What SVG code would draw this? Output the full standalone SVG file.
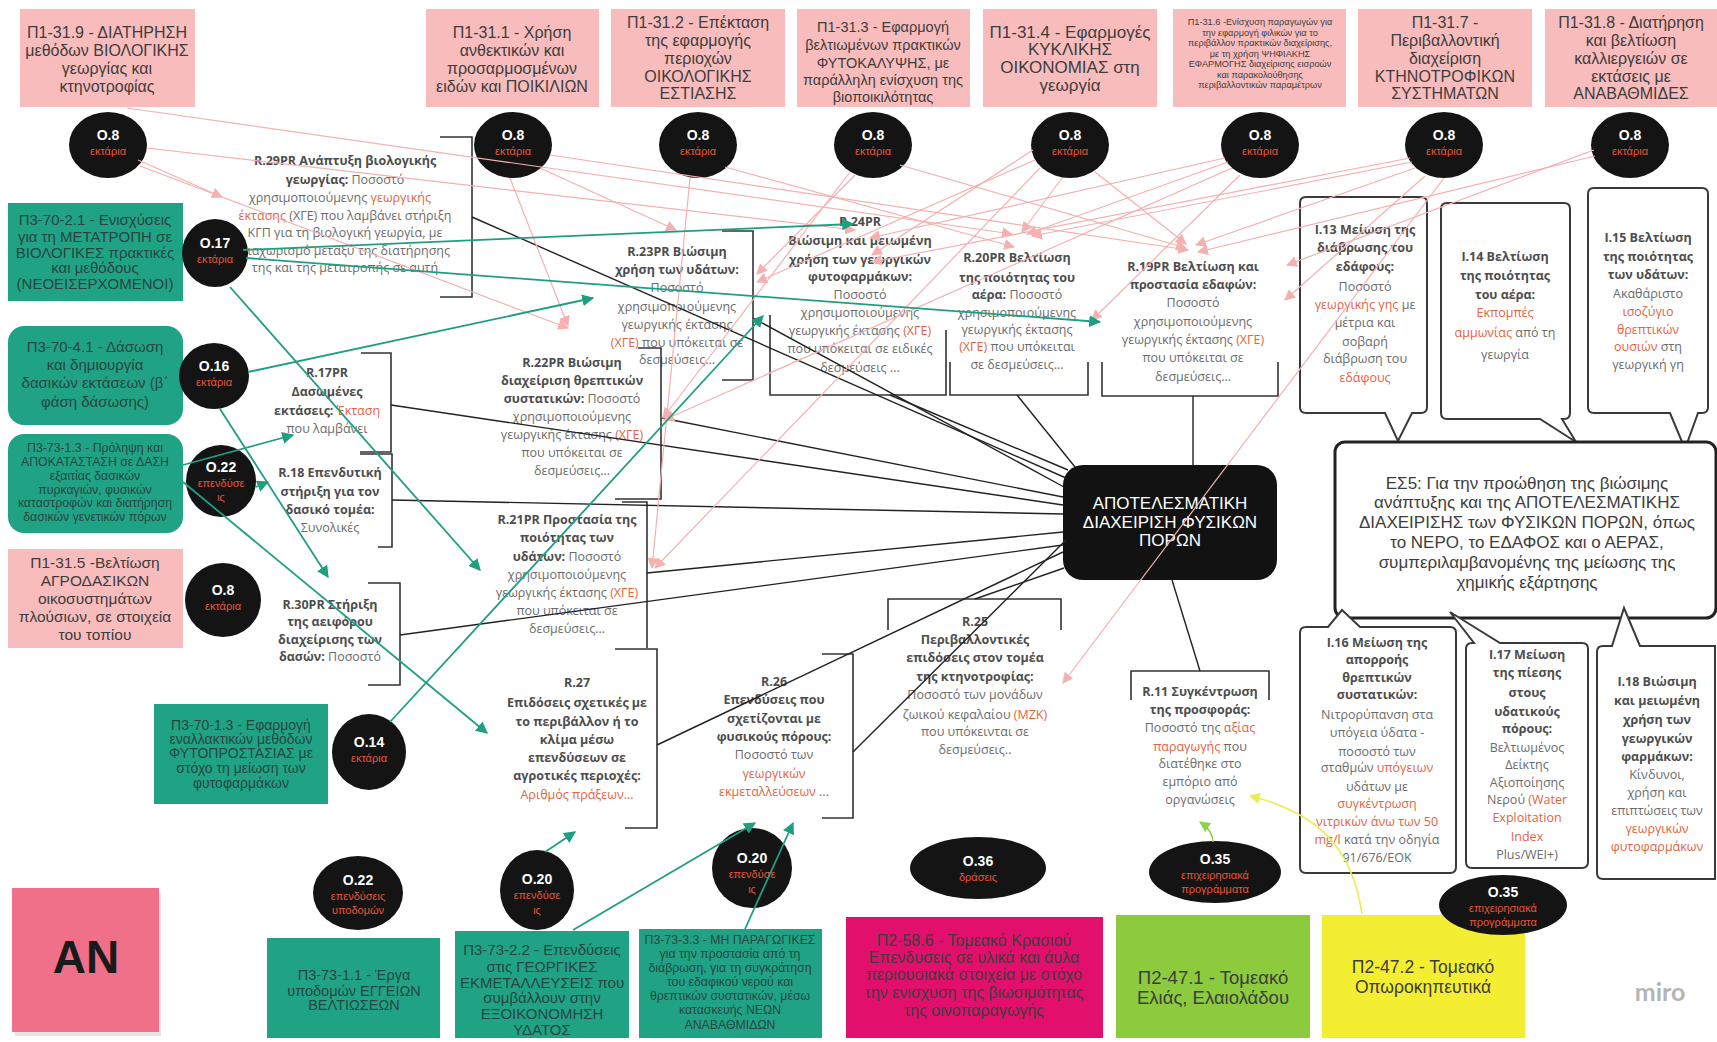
<svg xmlns="http://www.w3.org/2000/svg" width="1717" height="1042" viewBox="0 0 1717 1042">
<defs>
<style>
.pk{fill:#f9bcbc}
.tl{fill:#20a385}
.bx{font-family:"Liberation Sans",Arial,sans-serif;fill:#3d3d3d;text-anchor:middle}
.tx{font-family:"Liberation Sans",Arial,sans-serif;fill:#27463f;text-anchor:middle}
.ov{fill:#141414}
.o{font-family:"Liberation Sans",Arial,sans-serif;font-weight:bold;font-size:14px;fill:#fff;text-anchor:middle}
.u{font-family:"Liberation Sans",Arial,sans-serif;font-size:11px;fill:#e8553a;text-anchor:middle}
.rt{font-family:"Open Sans","Noto Sans",sans-serif;font-size:12.5px;fill:#6b6b6b;text-anchor:middle}
.b{font-weight:700;fill:#4d4d4d}
.r{fill:#e2643f}
.brk{fill:none;stroke:#333;stroke-width:1.6}
.co{fill:#fff;stroke:#3a3a3a;stroke-width:2}
.blk{stroke:#222;stroke-width:1.4;fill:none}
.pl{stroke:#f5b0b0;stroke-width:1.2;fill:none;marker-end:url(#ap)}
.tc{stroke:#1f9e82;stroke-width:1.8;fill:none;marker-end:url(#at)}
</style>
<marker id="ap" viewBox="0 0 10 10" refX="9" refY="5" markerWidth="11" markerHeight="11" markerUnits="userSpaceOnUse" orient="auto"><path d="M0,0 L10,5 L0,10 z" fill="#f5b0b0"/></marker>
<marker id="at" viewBox="0 0 10 10" refX="9" refY="5" markerWidth="12" markerHeight="12" markerUnits="userSpaceOnUse" orient="auto"><path d="M0,0 L10,5 L0,10 z" fill="#1f9e82"/></marker>
<marker id="ay" viewBox="0 0 10 10" refX="9" refY="5" markerWidth="11" markerHeight="11" markerUnits="userSpaceOnUse" orient="auto"><path d="M0,0 L10,5 L0,10 z" fill="#ecec52"/></marker>
<marker id="ag" viewBox="0 0 10 10" refX="9" refY="5" markerWidth="11" markerHeight="11" markerUnits="userSpaceOnUse" orient="auto"><path d="M0,0 L10,5 L0,10 z" fill="#8fd04a"/></marker>
</defs>
<rect width="1717" height="1042" fill="#fff"/>

<!-- Top pink measure boxes -->
<g id="p1-31-9"><rect class="pk" x="20" y="9" width="175" height="98"/>
<text class="bx" font-size="16"><tspan x="107" y="38">Π1-31.9 - ΔΙΑΤΗΡΗΣΗ</tspan><tspan x="107" y="56">μεθόδων ΒΙΟΛΟΓΙΚΗΣ</tspan><tspan x="107" y="74">γεωργίας και</tspan><tspan x="107" y="92">κτηνοτροφίας</tspan></text></g>
<g id="p1-31-1"><rect class="pk" x="426" y="9" width="173" height="98"/>
<text class="bx" font-size="16"><tspan x="512" y="38">Π1-31.1 - Χρήση</tspan><tspan x="512" y="56">ανθεκτικών και</tspan><tspan x="512" y="74">προσαρμοσμένων</tspan><tspan x="512" y="92">ειδών και ΠΟΙΚΙΛΙΩΝ</tspan></text></g>
<g id="p1-31-2"><rect class="pk" x="611" y="9" width="174" height="98"/>
<text class="bx" font-size="16"><tspan x="698" y="28">Π1-31.2 - Επέκταση</tspan><tspan x="698" y="46">της εφαρμογής</tspan><tspan x="698" y="64">περιοχών</tspan><tspan x="698" y="82">ΟΙΚΟΛΟΓΙΚΗΣ</tspan><tspan x="698" y="99">ΕΣΤΙΑΣΗΣ</tspan></text></g>
<g id="p1-31-3"><rect class="pk" x="797" y="9" width="173" height="98"/>
<text class="bx" font-size="14.5"><tspan x="883" y="32">Π1-31.3 - Εφαρμογή</tspan><tspan x="883" y="50">βελτιωμένων πρακτικών</tspan><tspan x="883" y="68">ΦΥΤΟΚΑΛΥΨΗΣ, με</tspan><tspan x="883" y="85">παράλληλη ενίσχυση της</tspan><tspan x="883" y="102">βιοποικιλότητας</tspan></text></g>
<g id="p1-31-4"><rect class="pk" x="983" y="9" width="174" height="98"/>
<text class="bx" font-size="17"><tspan x="1070" y="38">Π1-31.4 - Εφαρμογές</tspan><tspan x="1070" y="55">ΚΥΚΛΙΚΗΣ</tspan><tspan x="1070" y="73">ΟΙΚΟΝΟΜΙΑΣ στη</tspan><tspan x="1070" y="91">γεωργία</tspan></text></g>
<g id="p1-31-6"><rect class="pk" x="1173" y="9" width="173" height="98"/>
<text class="bx" font-size="9.2" fill="#5a4a52"><tspan x="1260" y="25">Π1-31.6 -Ενίσχυση παραγωγών για</tspan><tspan x="1260" y="35.5">την εφαρμογή φιλικών για το</tspan><tspan x="1260" y="46">περιβάλλον πρακτικών διαχείρισης,</tspan><tspan x="1260" y="56.5">με τη χρήση ΨΗΦΙΑΚΗΣ</tspan><tspan x="1260" y="67">ΕΦΑΡΜΟΓΗΣ  διαχείρισης εισροών</tspan><tspan x="1260" y="77.5">και παρακολούθησης</tspan><tspan x="1260" y="88">περιβαλλοντικών παραμέτρων</tspan></text></g>
<g id="p1-31-7"><rect class="pk" x="1358" y="9" width="174" height="98"/>
<text class="bx" font-size="16"><tspan x="1445" y="28">Π1-31.7 -</tspan><tspan x="1445" y="46">Περιβαλλοντική</tspan><tspan x="1445" y="64">διαχείριση</tspan><tspan x="1445" y="82">ΚΤΗΝΟΤΡΟΦΙΚΩΝ</tspan><tspan x="1445" y="99">ΣΥΣΤΗΜΑΤΩΝ</tspan></text></g>
<g id="p1-31-8"><rect class="pk" x="1545" y="9" width="172" height="98"/>
<text class="bx" font-size="16"><tspan x="1631" y="28">Π1-31.8 - Διατήρηση</tspan><tspan x="1631" y="46">και βελτίωση</tspan><tspan x="1631" y="64">καλλιεργειών σε</tspan><tspan x="1631" y="82">εκτάσεις με</tspan><tspan x="1631" y="99">ΑΝΑΒΑΘΜΙΔΕΣ</tspan></text></g>

<!-- Left column boxes -->
<g id="p3-70-2-1"><rect class="tl" x="8" y="203" width="175" height="98"/>
<text class="tx" font-size="15"><tspan x="95" y="225">Π3-70-2.1 - Ενισχύσεις</tspan><tspan x="95" y="242">για τη ΜΕΤΑΤΡΟΠΗ σε</tspan><tspan x="95" y="258">ΒΙΟΛΟΓΙΚΕΣ πρακτικές</tspan><tspan x="95" y="273">και μεθόδους</tspan><tspan x="95" y="289">(ΝΕΟΕΙΣΕΡΧΟΜΕΝΟΙ)</tspan></text></g>
<g id="p3-70-4-1"><rect class="tl" x="8" y="326" width="175" height="99" rx="16"/>
<text class="tx" font-size="15"><tspan x="95" y="352">Π3-70-4.1 - Δάσωση</tspan><tspan x="95" y="370">και δημιουργία</tspan><tspan x="95" y="388">δασικών εκτάσεων (β΄</tspan><tspan x="95" y="407">φάση δάσωσης)</tspan></text></g>
<g id="p3-73-1-3"><rect class="tl" x="8" y="434" width="175" height="99" rx="16"/>
<text class="tx" font-size="12.3"><tspan x="95" y="452">Π3-73-1.3 - Πρόληψη και</tspan><tspan x="95" y="466">ΑΠΟΚΑΤΑΣΤΑΣΗ σε ΔΑΣΗ</tspan><tspan x="95" y="480">εξαιτίας δασικών</tspan><tspan x="95" y="494">πυρκαγιών, φυσικών</tspan><tspan x="95" y="507">καταστροφών και διατήρηση</tspan><tspan x="95" y="521">δασικών γενετικών πόρων</tspan></text></g>
<g id="p1-31-5"><rect class="pk" x="8" y="549" width="175" height="99"/>
<text class="bx" font-size="15.5"><tspan x="95" y="568">Π1-31.5 -Βελτίωση</tspan><tspan x="95" y="586">ΑΓΡΟΔΑΣΙΚΩΝ</tspan><tspan x="95" y="604">οικοσυστημάτων</tspan><tspan x="95" y="622">πλούσιων, σε στοιχεία</tspan><tspan x="95" y="640">του τοπίου</tspan></text></g>
<g id="p3-70-1-3"><rect class="tl" x="154" y="704" width="174" height="100"/>
<text class="tx" font-size="14"><tspan x="241" y="730">Π3-70-1.3 - Εφαρμογή</tspan><tspan x="241" y="744">εναλλακτικών μεθόδων</tspan><tspan x="241" y="758">ΦΥΤΟΠΡΟΣΤΑΣΙΑΣ με</tspan><tspan x="241" y="773">στόχο τη μείωση των</tspan><tspan x="241" y="788">φυτοφαρμάκων</tspan></text></g>
<g id="an"><rect x="15" y="893" width="146" height="143" fill="#c9c9c9" opacity="0.5"/><rect x="12" y="888" width="147" height="144" fill="#ef7088"/>
<text x="86" y="973" font-family="Liberation Sans,Arial,sans-serif" font-weight="bold" font-size="46" fill="#1a1a1a" text-anchor="middle">AN</text></g>

<!-- Bottom boxes -->
<g id="p3-73-1-1"><rect class="tl" x="267" y="938" width="173" height="100"/>
<text class="tx" font-size="14.5"><tspan x="354" y="980">Π3-73-1.1 - Έργα</tspan><tspan x="354" y="996">υποδομών ΕΓΓΕΙΩΝ</tspan><tspan x="354" y="1010">ΒΕΛΤΙΩΣΕΩΝ</tspan></text></g>
<g id="p3-73-2-2"><rect class="tl" x="455" y="931" width="174" height="107"/>
<text class="tx" font-size="15"><tspan x="542" y="955">Π3-73-2.2 - Επενδύσεις</tspan><tspan x="542" y="972">στις ΓΕΩΡΓΙΚΕΣ</tspan><tspan x="542" y="988">ΕΚΜΕΤΑΛΛΕΥΣΕΙΣ που</tspan><tspan x="542" y="1003">συμβάλλουν στην</tspan><tspan x="542" y="1019">ΕΞΟΙΚΟΝΟΜΗΣΗ</tspan><tspan x="542" y="1035">ΥΔΑΤΟΣ</tspan></text></g>
<g id="p3-73-3-3"><rect class="tl" x="639" y="929" width="183" height="109"/>
<text class="tx" font-size="12.3"><tspan x="730" y="944">Π3-73-3.3 - ΜΗ ΠΑΡΑΓΩΓΙΚΕΣ</tspan><tspan x="730" y="958">για την προστασία από τη</tspan><tspan x="730" y="972">διάβρωση, για τη συγκράτηση</tspan><tspan x="730" y="986">του εδαφικού νερού και</tspan><tspan x="730" y="1000">θρεπτικών συστατικών, μέσω</tspan><tspan x="730" y="1014">κατασκευής ΝΕΩΝ</tspan><tspan x="730" y="1029">ΑΝΑΒΑΘΜΙΔΩΝ</tspan></text></g>
<g id="p2-58-6"><rect x="846" y="917" width="257" height="121" fill="#e2106c"/>
<text class="bx" font-size="16" fill="#5a1232"><tspan x="974" y="946">Π2-58.6 - Τομεακό Κρασιού</tspan><tspan x="974" y="963">Επενδυσεις σε υλικά και άυλα</tspan><tspan x="974" y="980">περιουσιακά στοιχεία με στόχο</tspan><tspan x="974" y="998">την ενισχυση της βιωσιμότητας</tspan><tspan x="974" y="1016">της οινοπαραγωγής</tspan></text></g>
<g id="p2-47-1"><rect x="1116" y="915" width="194" height="123" fill="#8bcb3d"/>
<text class="bx" font-size="18.5" fill="#333"><tspan x="1213" y="984">Π2-47.1 - Τομεακό</tspan><tspan x="1213" y="1004">Ελιάς, Ελαιολάδου</tspan></text></g>
<g id="p2-47-2"><rect x="1322" y="915" width="203" height="123" fill="#f4ee33"/>
<text class="bx" font-size="17.5" fill="#333"><tspan x="1423" y="973">Π2-47.2 - Τομεακό</tspan><tspan x="1423" y="993">Οπωροκηπευτικά</tspan></text></g>

<!-- Result brackets and texts -->
<g id="r29pr"><path class="brk" d="M440,137 H472 V297 H440"/>
<text class="rt"><tspan x="345" y="165" class="b">R.29PR  Ανάπτυξη βιολογικής</tspan><tspan x="345" y="184"><tspan class="b">γεωργίας:</tspan> Ποσοστό</tspan><tspan x="340" y="202">χρησιμοποιούμενης <tspan class="r">γεωργικής</tspan></tspan><tspan x="345" y="220"><tspan class="r">έκτασης</tspan> (ΧΓΕ) που λαμβάνει στήριξη</tspan><tspan x="345" y="237">ΚΓΠ για τη βιολογική γεωργία, με</tspan><tspan x="345" y="255">διαχωρισμό μεταξύ της διατήρησης</tspan><tspan x="345" y="272">της και της μετατροπής σε αυτή</tspan></text></g>
<g id="r24pr"><path class="brk" d="M770,315 V395 H946 V330"/>
<text class="rt"><tspan x="860" y="226" class="b">R.24PR</tspan><tspan x="860" y="245" class="b">Βιώσιμη και μειωμένη</tspan><tspan x="860" y="264" class="b">χρήση των γεωργικών</tspan><tspan x="860" y="281" class="b">φυτοφαρμάκων:</tspan><tspan x="860" y="299">Ποσοστό</tspan><tspan x="860" y="317">χρησιμοποιούμενης</tspan><tspan x="860" y="335">γεωργικής έκτασης <tspan class="r">(ΧΓΕ)</tspan></tspan><tspan x="860" y="353">που υπόκειται σε ειδικές</tspan><tspan x="860" y="372">δεσμεύσεις ...</tspan></text></g>
<g id="r23pr"><path class="brk" d="M722,231 H753 V380 H722"/>
<text class="rt"><tspan x="677" y="256" class="b">R.23PR Βιώσιμη</tspan><tspan x="677" y="274" class="b">χρήση των υδάτων:</tspan><tspan x="677" y="292">Ποσοστό</tspan><tspan x="677" y="311">χρησιμοποιούμενης</tspan><tspan x="677" y="329">γεωργικής έκτασης</tspan><tspan x="677" y="347"><tspan class="r">(ΧΓΕ)</tspan> που υπόκειται σε</tspan><tspan x="677" y="364">δεσμεύσεις...</tspan></text></g>
<g id="r20pr"><path class="brk" d="M950,362 V395 H1088 V362"/>
<text class="rt"><tspan x="1017" y="262" class="b">R.20PR Βελτίωση</tspan><tspan x="1017" y="282" class="b">της ποιότητας του</tspan><tspan x="1017" y="299"><tspan class="b">αέρα:</tspan> Ποσοστό</tspan><tspan x="1017" y="317">χρησιμοποιούμενης</tspan><tspan x="1017" y="334">γεωργικής έκτασης</tspan><tspan x="1017" y="351"><tspan class="r">(ΧΓΕ)</tspan> που υπόκειται</tspan><tspan x="1017" y="369">σε δεσμεύσεις...</tspan></text></g>
<g id="r19pr"><path class="brk" d="M1102,362 V396 H1278 V362"/>
<text class="rt"><tspan x="1193" y="271" class="b">R.19PR Βελτίωση και</tspan><tspan x="1193" y="289" class="b">προστασία εδαφών:</tspan><tspan x="1193" y="307">Ποσοστό</tspan><tspan x="1193" y="326">χρησιμοποιούμενης</tspan><tspan x="1193" y="344">γεωργικής έκτασης <tspan class="r">(ΧΓΕ)</tspan></tspan><tspan x="1193" y="362">που υπόκειται σε</tspan><tspan x="1193" y="381">δεσμεύσεις...</tspan></text></g>
<g id="r22pr"><path class="brk" d="M638,348 H661 V499 H615"/>
<text class="rt"><tspan x="572" y="367" class="b">R.22PR Βιώσιμη</tspan><tspan x="572" y="385" class="b">διαχείριση θρεπτικών</tspan><tspan x="572" y="403"><tspan class="b">συστατικών:</tspan> Ποσοστό</tspan><tspan x="572" y="421">χρησιμοποιούμενης</tspan><tspan x="572" y="439">γεωργικής έκτασης <tspan class="r">(ΧΓΕ)</tspan></tspan><tspan x="572" y="457">που υπόκειται σε</tspan><tspan x="572" y="475">δεσμεύσεις...</tspan></text></g>
<g id="r21pr"><path class="brk" d="M622,502 H647 V648"/>
<text class="rt"><tspan x="567" y="524" class="b">R.21PR Προστασία της</tspan><tspan x="567" y="542" class="b">ποιότητας των</tspan><tspan x="567" y="561"><tspan class="b">υδάτων:</tspan> Ποσοστό</tspan><tspan x="567" y="579">χρησιμοποιούμενης</tspan><tspan x="567" y="597">γεωργικής έκτασης <tspan class="r">(ΧΓΕ)</tspan></tspan><tspan x="567" y="615">που υπόκειται σε</tspan><tspan x="567" y="633">δεσμεύσεις...</tspan></text></g>
<g id="r27"><path class="brk" d="M615,649 H657 V828 H625"/>
<text class="rt"><tspan x="577" y="687" class="b">R.27</tspan><tspan x="577" y="707" class="b">Επιδόσεις σχετικές με</tspan><tspan x="577" y="726" class="b">το περιβάλλον ή το</tspan><tspan x="577" y="744" class="b">κλίμα μέσω</tspan><tspan x="577" y="762" class="b">επενδύσεων σε</tspan><tspan x="577" y="780" class="b">αγροτικές περιοχές:</tspan><tspan x="577" y="799" class="r">Αριθμός πράξεων...</tspan></text></g>
<g id="r26"><path class="brk" d="M822,654 H853 V818 H822"/>
<text class="rt"><tspan x="774" y="686" class="b">R.26</tspan><tspan x="774" y="704" class="b">Επενδύσεις που</tspan><tspan x="774" y="723" class="b">σχετίζονται με</tspan><tspan x="774" y="741" class="b">φυσικούς πόρους:</tspan><tspan x="774" y="759">Ποσοστό των</tspan><tspan x="774" y="778" class="r">γεωργικών</tspan><tspan x="774" y="796"><tspan class="r">εκμεταλλεύσεων</tspan> ...</tspan></text></g>
<g id="r25"><path class="brk" d="M888,630 V599 H1061 V630"/>
<text class="rt"><tspan x="975" y="626" class="b">R.25</tspan><tspan x="975" y="644" class="b">Περιβαλλοντικές</tspan><tspan x="975" y="662" class="b">επιδόσεις στον τομέα</tspan><tspan x="975" y="681" class="b">της κτηνοτροφίας:</tspan><tspan x="975" y="699">Ποσοστό των μονάδων</tspan><tspan x="975" y="719">ζωικού κεφαλαίου <tspan class="r">(ΜΖΚ)</tspan></tspan><tspan x="975" y="736">που υπόκεινται σε</tspan><tspan x="975" y="754">δεσμεύσεις..</tspan></text></g>
<g id="r11"><path class="brk" d="M1131,700 V671 H1269 V700"/>
<text class="rt"><tspan x="1200" y="696" class="b">R.11 Συγκέντρωση</tspan><tspan x="1200" y="714" class="b">της προσφοράς:</tspan><tspan x="1200" y="732">Ποσοστό της <tspan class="r">αξίας</tspan></tspan><tspan x="1200" y="751"><tspan class="r">παραγωγής</tspan> που</tspan><tspan x="1200" y="768">διατέθηκε στο</tspan><tspan x="1200" y="786">εμπόριο από</tspan><tspan x="1200" y="804">οργανώσεις</tspan></text></g>
<g id="r17pr"><path class="brk" d="M361,353 H391 V452 H360"/>
<text class="rt"><tspan x="327" y="377" class="b">R.17PR</tspan><tspan x="327" y="396" class="b">Δασωμένες</tspan><tspan x="327" y="415"><tspan class="b">εκτάσεις:</tspan> <tspan class="r">Έκταση</tspan></tspan><tspan x="327" y="433">που λαμβάνει</tspan></text></g>
<g id="r18"><path class="brk" d="M360,454 H392 V547 H378"/>
<text class="rt"><tspan x="330" y="477" class="b">R.18  Επενδυτική</tspan><tspan x="330" y="496" class="b">στήριξη για τον</tspan><tspan x="330" y="514" class="b">δασικό τομέα:</tspan><tspan x="330" y="532">Συνολικές</tspan></text></g>
<g id="r30pr"><path class="brk" d="M368,583 H400 V685 H368"/>
<text class="rt"><tspan x="330" y="609" class="b">R.30PR Στήριξη</tspan><tspan x="330" y="626" class="b">της αειφόρου</tspan><tspan x="330" y="644" class="b">διαχείρισης των</tspan><tspan x="330" y="661"><tspan class="b">δασών:</tspan> Ποσοστό</tspan></text></g>

<!-- Indicator callouts -->
<g id="i13"><path class="co" d="M1306,197 H1421 Q1427,197 1427,203 V407 Q1427,413 1421,413 H1412 L1398,441 L1385,413 H1306 Q1300,413 1300,407 V203 Q1300,197 1306,197 Z"/>
<text class="rt"><tspan x="1365" y="234" class="b">I.13 Μείωση της</tspan><tspan x="1365" y="252" class="b">διάβρωσης του</tspan><tspan x="1365" y="271" class="b">εδάφους:</tspan><tspan x="1365" y="291">Ποσοστό</tspan><tspan x="1365" y="309"><tspan class="r">γεωργικής γης</tspan> με</tspan><tspan x="1365" y="327">μέτρια και</tspan><tspan x="1365" y="346">σοβαρή</tspan><tspan x="1365" y="363">διάβρωση του</tspan><tspan x="1365" y="382" class="r">εδάφους</tspan></text></g>
<g id="i14"><path class="co" d="M1447,203 H1564 Q1570,203 1570,209 V413 Q1570,419 1564,419 H1562 L1576,442 L1540,419 H1447 Q1441,419 1441,413 V209 Q1441,203 1447,203 Z"/>
<text class="rt"><tspan x="1505" y="261" class="b">I.14 Βελτίωση</tspan><tspan x="1505" y="280" class="b">της ποιότητας</tspan><tspan x="1505" y="299" class="b">του αέρα:</tspan><tspan x="1505" y="317" class="r">Εκπομπές</tspan><tspan x="1505" y="337"><tspan class="r">αμμωνίας</tspan> από τη</tspan><tspan x="1505" y="359">γεωργία</tspan></text></g>
<g id="i15"><path class="co" d="M1594,188 H1702 Q1708,188 1708,194 V407 Q1708,413 1702,413 H1698 L1685,449 L1670,413 H1594 Q1588,413 1588,407 V194 Q1588,188 1594,188 Z"/>
<text class="rt"><tspan x="1648" y="242" class="b">I.15 Βελτίωση</tspan><tspan x="1648" y="261" class="b">της ποιότητας</tspan><tspan x="1648" y="279" class="b">των υδάτων:</tspan><tspan x="1648" y="298">Ακαθάριστο</tspan><tspan x="1648" y="316" class="r">ισοζύγιο</tspan><tspan x="1648" y="334" class="r">θρεπτικών</tspan><tspan x="1648" y="351"><tspan class="r">ουσιών</tspan> στη</tspan><tspan x="1648" y="369">γεωργική γη</tspan></text></g>
<g id="es5"><rect x="1335" y="442" width="381" height="176" rx="10" fill="#fff" stroke="#222" stroke-width="3"/>
<text class="bx" font-size="17" fill="#464646"><tspan x="1527" y="489">ΕΣ5: Για την προώθηση της βιώσιμης</tspan><tspan x="1527" y="508">ανάπτυξης και της ΑΠΟΤΕΛΕΣΜΑΤΙΚΗΣ</tspan><tspan x="1527" y="528">ΔΙΑΧΕΙΡΙΣΗΣ των ΦΥΣΙΚΩΝ ΠΟΡΩΝ, όπως</tspan><tspan x="1527" y="548">το ΝΕΡΟ, το ΕΔΑΦΟΣ και ο ΑΕΡΑΣ,</tspan><tspan x="1527" y="568">συμπεριλαμβανομένης της μείωσης της</tspan><tspan x="1527" y="588">χημικής εξάρτησης</tspan></text></g>
<g id="i16"><path class="co" d="M1306,627 H1328 L1342,610 L1360,627 H1450 Q1456,627 1456,633 V867 Q1456,873 1450,873 H1306 Q1300,873 1300,867 V633 Q1300,627 1306,627 Z"/>
<text class="rt"><tspan x="1377" y="647" class="b">I.16 Μείωση της</tspan><tspan x="1377" y="664" class="b">απορροής</tspan><tspan x="1377" y="682" class="b">θρεπτικών</tspan><tspan x="1377" y="699" class="b">συστατικών:</tspan><tspan x="1377" y="719">Νιτρορύπανση στα</tspan><tspan x="1377" y="737">υπόγεια ύδατα -</tspan><tspan x="1377" y="756">ποσοστό των</tspan><tspan x="1377" y="772">σταθμών <tspan class="r">υπόγειων</tspan></tspan><tspan x="1377" y="791">υδάτων με</tspan><tspan x="1377" y="808" class="r">συγκέντρωση</tspan><tspan x="1377" y="826" class="r">νιτρικών άνω των 50</tspan><tspan x="1377" y="844"><tspan class="r">mg/l</tspan> κατά την οδηγία</tspan><tspan x="1377" y="862">91/676/ΕΟΚ</tspan></text></g>
<g id="i17"><path class="co" d="M1472,643 H1474 L1450,612 L1500,643 H1582 Q1588,643 1588,649 V862 Q1588,868 1582,868 H1472 Q1466,868 1466,862 V649 Q1466,643 1472,643 Z"/>
<text class="rt"><tspan x="1527" y="659" class="b">I.17 Μείωση</tspan><tspan x="1527" y="677" class="b">της πίεσης</tspan><tspan x="1527" y="697" class="b">στους</tspan><tspan x="1527" y="716" class="b">υδατικούς</tspan><tspan x="1527" y="733" class="b">πόρους:</tspan><tspan x="1527" y="752">Βελτιωμένος</tspan><tspan x="1527" y="769">Δείκτης</tspan><tspan x="1527" y="787">Αξιοποίησης</tspan><tspan x="1527" y="804">Νερού <tspan class="r">(Water</tspan></tspan><tspan x="1527" y="822" class="r">Exploitation</tspan><tspan x="1527" y="841" class="r">Index</tspan><tspan x="1527" y="859">Plus/WEI+)</tspan></text></g>
<g id="i18"><path class="co" d="M1603,646 H1612 L1624,608 L1640,646 H1715 V879 H1603 Q1597,879 1597,873 V652 Q1597,646 1603,646 Z"/>
<text class="rt"><tspan x="1657" y="686" class="b">I.18 Βιώσιμη</tspan><tspan x="1657" y="705" class="b">και μειωμένη</tspan><tspan x="1657" y="724" class="b">χρήση των</tspan><tspan x="1657" y="743" class="b">γεωργικών</tspan><tspan x="1657" y="761" class="b">φαρμάκων:</tspan><tspan x="1657" y="779">Κίνδυνοι,</tspan><tspan x="1657" y="797">χρήση και</tspan><tspan x="1657" y="815">επιπτώσεις των</tspan><tspan x="1657" y="833" class="r">γεωργικών</tspan><tspan x="1657" y="851" class="r">φυτοφαρμάκων</tspan></text></g>

<!-- Center node -->
<g id="center"><rect x="1063" y="465" width="214" height="115" rx="20" fill="#121212"/>
<text font-family="Liberation Sans,Arial,sans-serif" font-size="17" fill="#fff" text-anchor="middle"><tspan x="1170" y="509">ΑΠΟΤΕΛΕΣΜΑΤΙΚΗ</tspan><tspan x="1170" y="528">ΔΙΑΧΕΙΡΙΣΗ ΦΥΣΙΚΩΝ</tspan><tspan x="1170" y="546">ΠΟΡΩΝ</tspan></text></g>

<!-- Output indicator ovals -->
<g id="o8-a"><ellipse class="ov" cx="108" cy="145" rx="39" ry="33"/><text class="o" x="108" y="140">O.8</text><text class="u" x="108" y="155">εκτάρια</text></g>
<g id="o8-b"><ellipse class="ov" cx="513" cy="145" rx="39" ry="33"/><text class="o" x="513" y="140">O.8</text><text class="u" x="513" y="155">εκτάρια</text></g>
<g id="o8-c"><ellipse class="ov" cx="698" cy="145" rx="39" ry="33"/><text class="o" x="698" y="140">O.8</text><text class="u" x="698" y="155">εκτάρια</text></g>
<g id="o8-d"><ellipse class="ov" cx="873" cy="145" rx="39" ry="33"/><text class="o" x="873" y="140">O.8</text><text class="u" x="873" y="155">εκτάρια</text></g>
<g id="o8-e"><ellipse class="ov" cx="1070" cy="145" rx="39" ry="33"/><text class="o" x="1070" y="140">O.8</text><text class="u" x="1070" y="155">εκτάρια</text></g>
<g id="o8-f"><ellipse class="ov" cx="1260" cy="145" rx="39" ry="33"/><text class="o" x="1260" y="140">O.8</text><text class="u" x="1260" y="155">εκτάρια</text></g>
<g id="o8-g"><ellipse class="ov" cx="1444" cy="145" rx="39" ry="33"/><text class="o" x="1444" y="140">O.8</text><text class="u" x="1444" y="155">εκτάρια</text></g>
<g id="o8-h"><ellipse class="ov" cx="1630" cy="145" rx="39" ry="33"/><text class="o" x="1630" y="140">O.8</text><text class="u" x="1630" y="155">εκτάρια</text></g>
<g id="o17"><ellipse class="ov" cx="215" cy="253" rx="33" ry="34"/><text class="o" x="215" y="248">O.17</text><text class="u" x="215" y="263">εκτάρια</text></g>
<g id="o16"><ellipse class="ov" cx="214" cy="376" rx="35" ry="33"/><text class="o" x="214" y="371">O.16</text><text class="u" x="214" y="386">εκτάρια</text></g>
<g id="o22-a"><ellipse class="ov" cx="221" cy="481" rx="35" ry="36"/><text class="o" x="221" y="472">O.22</text><text class="u" x="221" y="487">επενδύσε</text><text class="u" x="221" y="501">ις</text></g>
<g id="o8-i"><ellipse class="ov" cx="223" cy="600" rx="38" ry="37"/><text class="o" x="223" y="595">O.8</text><text class="u" x="223" y="610">εκτάρια</text></g>
<g id="o14"><ellipse class="ov" cx="369" cy="752" rx="37" ry="38"/><text class="o" x="369" y="747">O.14</text><text class="u" x="369" y="762">εκτάρια</text></g>
<g id="o22-b"><ellipse class="ov" cx="358" cy="893" rx="45" ry="37"/><text class="o" x="358" y="885">O.22</text><text class="u" x="358" y="900">επενδύσεις</text><text class="u" x="358" y="914">υποδομών</text></g>
<g id="o20-a"><ellipse class="ov" cx="537" cy="890" rx="37" ry="40"/><text class="o" x="537" y="884">O.20</text><text class="u" x="537" y="899">επενδύσε</text><text class="u" x="537" y="914">ις</text></g>
<g id="o20-b"><ellipse class="ov" cx="752" cy="868" rx="40" ry="40"/><text class="o" x="752" y="863">O.20</text><text class="u" x="752" y="878">επενδύσε</text><text class="u" x="752" y="893">ις</text></g>
<g id="o36"><ellipse class="ov" cx="978" cy="868" rx="68" ry="31"/><text class="o" x="978" y="866">O.36</text><text class="u" x="978" y="881">δράσεις</text></g>
<g id="o35-a"><ellipse class="ov" cx="1215" cy="872" rx="66" ry="31"/><text class="o" x="1215" y="864">O.35</text><text class="u" x="1215" y="879">επιχειρησιακά</text><text class="u" x="1215" y="893">προγράμματα</text></g>
<g id="o35-b"><ellipse class="ov" cx="1503" cy="905" rx="64" ry="30"/><text class="o" x="1503" y="897">O.35</text><text class="u" x="1503" y="912">επιχειρησιακά</text><text class="u" x="1503" y="926">προγράμματα</text></g>

<text x="1660" y="1001" font-family="Lato,Open Sans,sans-serif" font-weight="bold" font-size="25" fill="#b4b4b4" text-anchor="middle">miro</text>

<!-- Connectors -->
<g id="connectors">
<g id="black-links">
<line class="blk" x1="472" y1="217" x2="1066" y2="478"/>
<line class="blk" x1="890" y1="395" x2="1068" y2="470"/>
<line class="blk" x1="753" y1="318" x2="1064" y2="487"/>
<line class="blk" x1="662" y1="418" x2="1063" y2="497"/>
<line class="blk" x1="391" y1="405" x2="1063" y2="505"/>
<line class="blk" x1="392" y1="500" x2="1063" y2="514"/>
<line class="blk" x1="647" y1="573" x2="1063" y2="532"/>
<line class="blk" x1="400" y1="635" x2="1063" y2="545"/>
<line class="blk" x1="657" y1="745" x2="1063" y2="552"/>
<line class="blk" x1="853" y1="752" x2="1066" y2="540"/>
<line class="blk" x1="975" y1="599" x2="1064" y2="568"/>
<line class="blk" x1="1017" y1="395" x2="1075" y2="467"/>
<line class="blk" x1="1193" y1="396" x2="1193" y2="465"/>
<line class="blk" x1="1200" y1="671" x2="1172" y2="580"/>
</g>
<g id="pink-links">
<line class="pl" x1="138" y1="160" x2="222" y2="197"/>
<line class="pl" x1="140" y1="166" x2="568" y2="328"/>
<line class="pl" x1="147" y1="148" x2="855" y2="230"/>
<line class="pl" x1="127" y1="108" x2="1012" y2="234"/>
<line class="pl" x1="510" y1="178" x2="568" y2="326"/>
<line class="pl" x1="540" y1="168" x2="676" y2="230"/>
<line class="pl" x1="550" y1="155" x2="1188" y2="250"/>
<line class="pl" x1="690" y1="178" x2="652" y2="568"/>
<line class="pl" x1="725" y1="167" x2="1014" y2="247"/>
<line class="pl" x1="855" y1="175" x2="757" y2="274"/>
<line class="pl" x1="850" y1="172" x2="663" y2="418"/>
<line class="pl" x1="900" y1="165" x2="1186" y2="248"/>
<line class="pl" x1="1035" y1="160" x2="757" y2="282"/>
<line class="pl" x1="1040" y1="168" x2="655" y2="568"/>
<line class="pl" x1="1062" y1="178" x2="1022" y2="232"/>
<line class="pl" x1="1095" y1="172" x2="1186" y2="244"/>
<line class="pl" x1="1033" y1="150" x2="872" y2="255"/>
<line class="pl" x1="1228" y1="162" x2="1027" y2="234"/>
<line class="pl" x1="1225" y1="158" x2="870" y2="238"/>
<line class="pl" x1="1240" y1="175" x2="1092" y2="320"/>
<line class="pl" x1="1232" y1="168" x2="664" y2="420"/>
<line class="pl" x1="1415" y1="168" x2="1196" y2="245"/>
<line class="pl" x1="1412" y1="162" x2="1032" y2="236"/>
<line class="pl" x1="1425" y1="176" x2="1285" y2="300"/>
<line class="pl" x1="1444" y1="178" x2="1063" y2="683"/>
<line class="pl" x1="1410" y1="158" x2="872" y2="262"/>
<line class="pl" x1="1594" y1="150" x2="1287" y2="265"/>
<line class="pl" x1="1595" y1="156" x2="1198" y2="252"/>
</g>
<g id="teal-links">
<line class="tc" x1="243" y1="250" x2="853" y2="224"/>
<line class="tc" x1="246" y1="258" x2="1100" y2="322"/>
<line class="tc" x1="230" y1="287" x2="480" y2="570"/>
<line class="tc" x1="248" y1="372" x2="593" y2="298"/>
<line class="tc" x1="220" y1="409" x2="328" y2="577"/>
<line class="tc" x1="183" y1="465" x2="293" y2="435"/>
<line class="tc" x1="256" y1="487" x2="268" y2="482"/>
<line class="tc" x1="183" y1="482" x2="487" y2="733"/>
<line class="tc" x1="390" y1="722" x2="763" y2="316"/>
<line class="tc" x1="545" y1="852" x2="575" y2="832"/>
<line class="tc" x1="573" y1="930" x2="755" y2="823"/>
<line class="tc" x1="745" y1="929" x2="793" y2="823"/>
</g>
<path d="M1362,914 C1352,845 1315,812 1250,796" fill="none" stroke="#ecec52" stroke-width="1.6" marker-end="url(#ay)"/>
<path d="M1213,842 C1213,832 1206,826 1200,822" fill="none" stroke="#8fd04a" stroke-width="1.6" marker-end="url(#ag)"/>
</g>
</svg>
